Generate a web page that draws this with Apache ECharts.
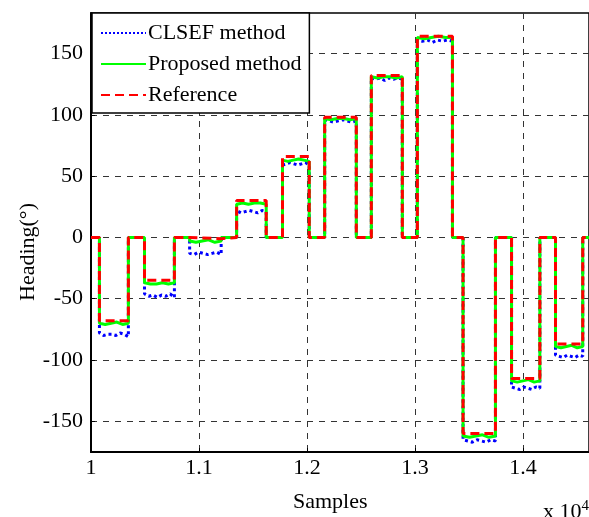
<!DOCTYPE html>
<html>
<head>
<meta charset="utf-8">
<script src="https://cdn.jsdelivr.net/npm/echarts@6/dist/echarts.min.js"></script>
<style>
  html, body { margin: 0; padding: 0; background: #fff; }
  #main { width: 589px; height: 517px; }
</style>
</head>
<body>
<div id="main"></div>
<script>
// step segments (samples) and heading levels
var segStart = [10078, 10495, 10913, 11348, 11773, 12163, 12595, 13021, 13444, 13893, 14300];
var segEnd   = [10346, 10772, 11205, 11622, 12020, 12456, 12882, 13346, 13744, 14155, 14552];
var refLevel = [-68, -35, -1, 30, 66, 98, 132, 164, -160, -115, -87];
var proposedVals = [
    [-70, -71, -70, -69, -71, -70],
    [-37, -38, -38, -37, -38, -37],
    [-3, -4, -3, -2, -4, -3],
    [27, 28, 27, 28, 28, 27],
    [63, 62, 63, 64, 63, 62],
    [97, 96, 97, 97, 96, 97],
    [131, 130, 131, 131, 130, 131],
    [163, 162, 163, 164, 163, 163],
    [-162, -163, -162, -161, -163, -162],
    [-117, -118, -117, -116, -118, -117],
    [-89, -90, -89, -88, -90, -89]
];
var clsefVals = [
    [-78, -80, -79, -79, -80, -78, -79, -81],
    [-46, -48, -47, -49, -47, -48, -46, -49],
    [-13, -14, -12, -13, -14, -13, -12, -14],
    [22, 20, 21, 22, 21, 20, 22, 21],
    [59, 60, 61, 60, 59, 60, 61, 59],
    [96, 95, 94, 95, 96, 95, 94, 95],
    [130, 129, 130, 128, 130, 129, 130, 129],
    [161, 160, 161, 159, 161, 160, 161, 160],
    [-165, -166, -167, -165, -166, -167, -165, -166],
    [-122, -123, -124, -122, -123, -124, -122, -123],
    [-96, -97, -98, -96, -97, -98, -96, -97]
];
var xFirst = 10000, xLast = 14610;
var xTicks = [10000, 11000, 12000, 13000, 14000];
var yTicks = [-150, -100, -50, 0, 50, 100, 150];

var serif = "'Liberation Serif', 'Times New Roman', serif";

// reference: plain steps
function refLine() {
    var pts = [[xFirst, 0]];
    for (var i = 0; i < segStart.length; i++) {
        pts.push([segStart[i], 0]);
        pts.push([segStart[i], refLevel[i]]);
        pts.push([segEnd[i], refLevel[i]]);
        pts.push([segEnd[i], 0]);
    }
    pts.push([xLast, 0]);
    return pts;
}
// estimated series: steps with the read values spread over each segment
function estLine(vals) {
    var pts = [[xFirst, 0]];
    for (var i = 0; i < segStart.length; i++) {
        var v = vals[i];
        pts.push([segStart[i], 0]);
        for (var k = 0; k < v.length; k++) {
            var x = segStart[i] + (segEnd[i] - segStart[i]) * k / (v.length - 1);
            pts.push([x, v[k]]);
        }
        pts.push([segEnd[i], 0]);
    }
    pts.push([xLast, 0]);
    return pts;
}

var myChart = echarts.init(document.getElementById('main'));
myChart.setOption({
    animation: false,
    backgroundColor: '#fff',
    grid: {
        left: 91, top: 13, right: -2, bottom: 65,
        show: true,
        borderColor: '#000',
        borderWidth: 1.5
    },
    legend: {
        orient: 'vertical',
        left: 92, top: 13,
        padding: [9, 8, 7, 8],
        itemWidth: 45,
        itemHeight: 22,
        itemGap: 9,
        backgroundColor: '#fff',
        borderColor: '#000',
        borderWidth: 1.5,
        itemStyle: { opacity: 0 },
        textStyle: { fontFamily: serif, fontSize: 22, color: '#000', padding: [0, 0, 0, -3] },
        data: ['CLSEF method', 'Proposed method', 'Reference']
    },
    xAxis: {
        type: 'value',
        min: xFirst,
        max: xLast,
        interval: 1000,
        axisLine: { onZero: false, lineStyle: { color: '#000', width: 2 } },
        axisTick: { inside: true, length: 4, customValues: xTicks, lineStyle: { color: '#000' } },
        axisLabel: {
            customValues: xTicks,
            margin: 5,
            fontFamily: serif, fontSize: 22, color: '#000',
            formatter: function (v) { return (v % 1000 === 0) ? String(v / 10000) : ''; }
        },
        splitLine: { show: true, lineStyle: { color: '#333', type: [6, 6], width: 1 } }
    },
    yAxis: {
        type: 'value',
        min: -175,
        max: 183,
        axisLine: { show: true, onZero: false, lineStyle: { color: '#000', width: 2 } },
        axisTick: { show: true, inside: true, length: 4, customValues: yTicks, lineStyle: { color: '#000' } },
        axisLabel: {
            customValues: yTicks,
            margin: 8,
            fontFamily: serif, fontSize: 22, color: '#000'
        },
        splitLine: { show: true, lineStyle: { color: '#333', type: [6, 6], width: 1 } }
    },
    graphic: [
        { type: 'text', left: 293, top: 491,
          style: { text: 'Samples', fontFamily: serif, fontSize: 22, fill: '#000' } },
        { type: 'text', x: 28, y: 252, rotation: Math.PI / 2,
          style: { text: 'Heading(°)', fontFamily: serif, fontSize: 22, fill: '#000',
                   align: 'center', verticalAlign: 'middle' } },
        { type: 'text', left: 543, top: 499,
          style: { text: 'x 10{s|4}', fontFamily: serif, fontSize: 22, fill: '#000',
                   rich: { s: { fontFamily: serif, fontSize: 15, verticalAlign: 'top', padding: [0, 0, 12, 0] } } } }
    ],
    series: [
        {
            name: 'CLSEF method',
            type: 'line',
            symbol: 'none',
            data: estLine(clsefVals),
            lineStyle: { color: '#0000ff', width: 3, type: 'dotted' },
            itemStyle: { color: '#0000ff' },
            z: 2
        },
        {
            name: 'Proposed method',
            type: 'line',
            symbol: 'none',
            data: estLine(proposedVals),
            lineStyle: { color: '#00ff00', width: 3 },
            itemStyle: { color: '#00ff00' },
            z: 3
        },
        {
            name: 'Reference',
            type: 'line',
            symbol: 'none',
            data: refLine(),
            lineStyle: { color: '#ff0000', width: 3, type: [9, 5] },
            itemStyle: { color: '#ff0000' },
            z: 4
        }
    ]
});
</script>
</body>
</html>
